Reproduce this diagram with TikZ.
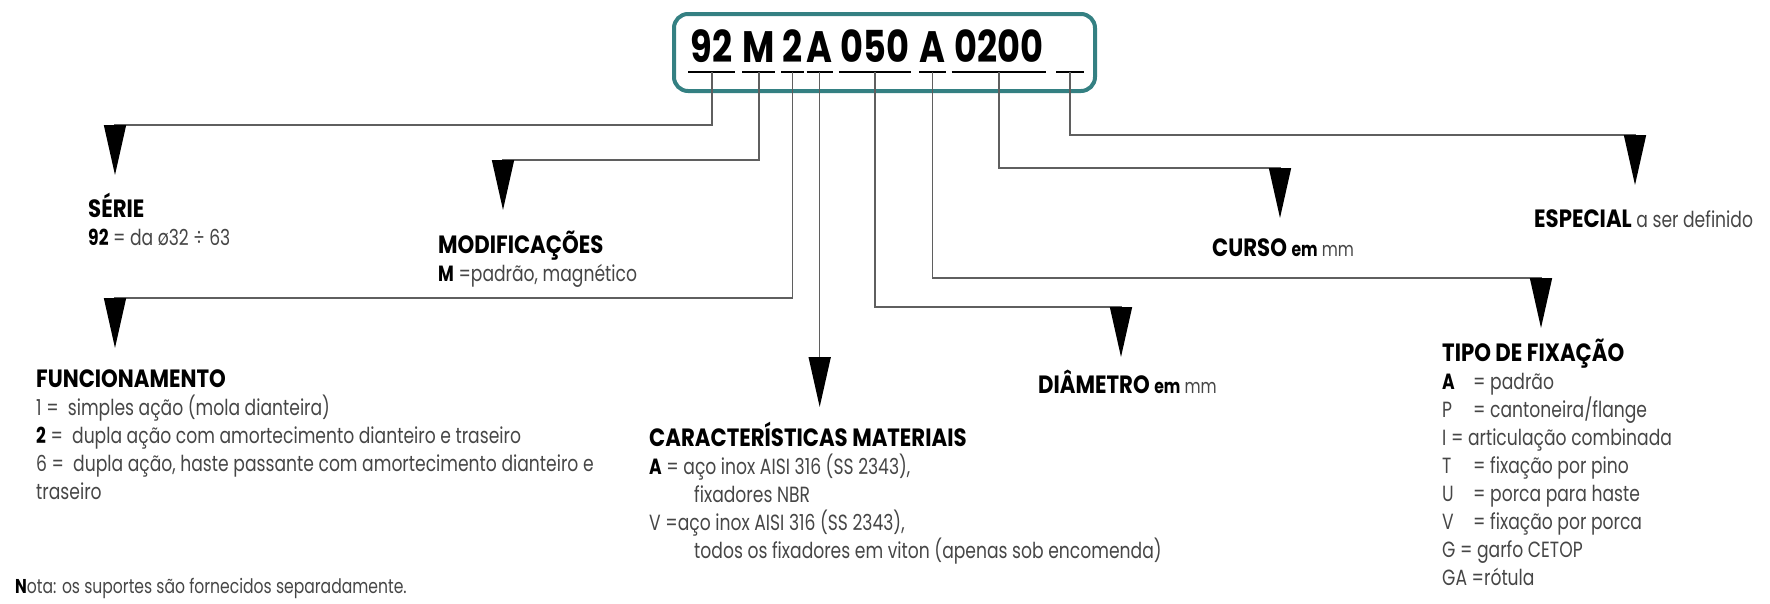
\documentclass[tikz,border=0pt]{standalone}
\usepackage{fontspec}
\setmainfont{Poppins}[FakeStretch=0.78]
\newfontfamily\hdfont{Poppins}[FakeStretch=0.85]
\newfontfamily\codefont{Poppins}[FakeStretch=0.8]
\usepackage{xcolor}
\usetikzlibrary{arrows.meta, positioning}

\definecolor{boxteal}{RGB}{52,128,130}
\definecolor{txtgray}{RGB}{70,70,70}
\definecolor{linegray}{RGB}{95,95,95}

\newcommand{\hd}[1]{{\hdfont\bfseries\fontsize{25}{28}\selectfont\color{black}#1}}
\newcommand{\bk}[1]{{\bfseries\color{black}#1}}
\newcommand{\sm}[1]{{\fontsize{20}{22}\selectfont#1}}

\begin{document}
\begin{tikzpicture}[x=1pt, y=-1pt,
    codebox/.style={draw=boxteal, line width=4pt, rounded corners=14pt, minimum width=421pt, minimum height=77pt},
    seg/.style={font=\codefont\bfseries\fontsize{44}{44}\selectfont, inner xsep=0pt, inner ysep=9pt, text height=31pt, text depth=0pt},
    uline/.style={line width=2.4pt},
    conn/.style={draw=linegray, line width=1.6pt, -{Triangle[length=50pt, width=22pt, color=black]}},
    lbl/.style={anchor=base west, align=left, inner sep=0pt, text=txtgray, font=\fontsize{22}{28}\selectfont}]

    \useasboundingbox (0,0) rectangle (1770,603);

    % the order code
    \node[codebox] (box) at (884.5,52.5) {};
    \node[seg, minimum width=47pt, anchor=south west] (g1) at (688,72) {92};
    \node[seg, minimum width=30pt, right=7pt of g1] (g2) {M};
    \node[seg, minimum width=22pt, right=6pt of g2] (g3) {2};
    \node[seg, minimum width=24pt, right=3pt of g3] (g4) {A};
    \node[seg, minimum width=72pt, right=6pt of g4] (g5) {050};
    \node[seg, minimum width=24pt, right=8pt of g5] (g6) {A};
    \node[seg, minimum width=94pt, right=6pt of g6] (g7) {0200};
    \node[seg, minimum width=28pt, right=10pt of g7] (g8) {};

    \foreach \g in {g1,g2,g3,g4,g5,g6,g7,g8}
        \draw[uline] (\g.south west) -- (\g.south east);

    % arrow tips
    \coordinate (tSerie) at (115,175);
    \coordinate (tMod) at (503,210);
    \coordinate (tFunc) at (115,348);
    \coordinate (tCar) at (g4.south |- 0,407);
    \coordinate (tDiam) at (1121,357);
    \coordinate (tTipo) at (1541,328);
    \coordinate (tCurso) at (1280,218);
    \coordinate (tEsp) at (1635,185);

    % labels (base = last line)
    \node[lbl] (serie) at (88,245) {\hd{SÉRIE}\\ \bk{92} = da ø32 ÷ 63};
    \node[lbl] (mod) at (438,281) {\hd{MODIFICAÇÕES}\\ \bk{M} =padrão, magnético};
    \node[lbl] (func) at (36,499) {\hd{FUNCIONAMENTO}\\
        1 = \ simples ação (mola dianteira)\\
        \bk{2} = \ dupla ação com amortecimento dianteiro e traseiro\\
        6 = \ dupla ação, haste passante com amortecimento dianteiro e\\
        traseiro};
    \node[lbl] (car) at (649,558) {\hd{CARACTERÍSTICAS MATERIAIS}\\
        \bk{A} = aço inox AISI 316 (SS 2343),\\
        \hspace*{45pt}fixadores NBR\\
        V =aço inox AISI 316 (SS 2343),\\
        \hspace*{45pt}todos os fixadores em viton (apenas sob encomenda)};
    \node[lbl] (diam) at (1038,393) {\hd{DIÂMETRO} \sm{\bk{em} mm}};
    \node[lbl] (curso) at (1212,256) {\hd{CURSO} \sm{\bk{em} mm}};
    \node[lbl] (esp) at (1534,227) {\hd{ESPECIAL} a ser definido};
    \node[lbl] (tipo) at (1442,585) {\hd{TIPO DE FIXAÇÃO}\\
        \makebox[31pt][l]{\bk{A}}= padrão\\
        \makebox[31pt][l]{P}= cantoneira/flange\\
        I = articulação combinada\\
        \makebox[31pt][l]{T}= fixação por pino\\
        \makebox[31pt][l]{U}= porca para haste\\
        \makebox[31pt][l]{V}= fixação por porca\\
        G = garfo CETOP\\
        GA =rótula};
    \node[lbl, font=\fontsize{20}{24}\selectfont] (nota) at (15,593) {\bk{N}ota: os suportes são fornecidos separadamente.};

    % connectors
    \draw[conn] (g1.south) |- ([yshift=50pt]tSerie) -- (tSerie);
    \draw[conn] (g2.south) |- ([yshift=50pt]tMod) -- (tMod);
    \draw[conn] (g3.south) |- ([yshift=50pt]tFunc) -- (tFunc);
    \draw[conn] (g4.south) -- (tCar);
    \draw[conn] (g5.south) |- ([yshift=50pt]tDiam) -- (tDiam);
    \draw[conn] (g6.south) |- ([yshift=50pt]tTipo) -- (tTipo);
    \draw[conn] (g7.south) |- ([yshift=50pt]tCurso) -- (tCurso);
    \draw[conn] (g8.south) |- ([yshift=50pt]tEsp) -- (tEsp);

\end{tikzpicture}
\end{document}
